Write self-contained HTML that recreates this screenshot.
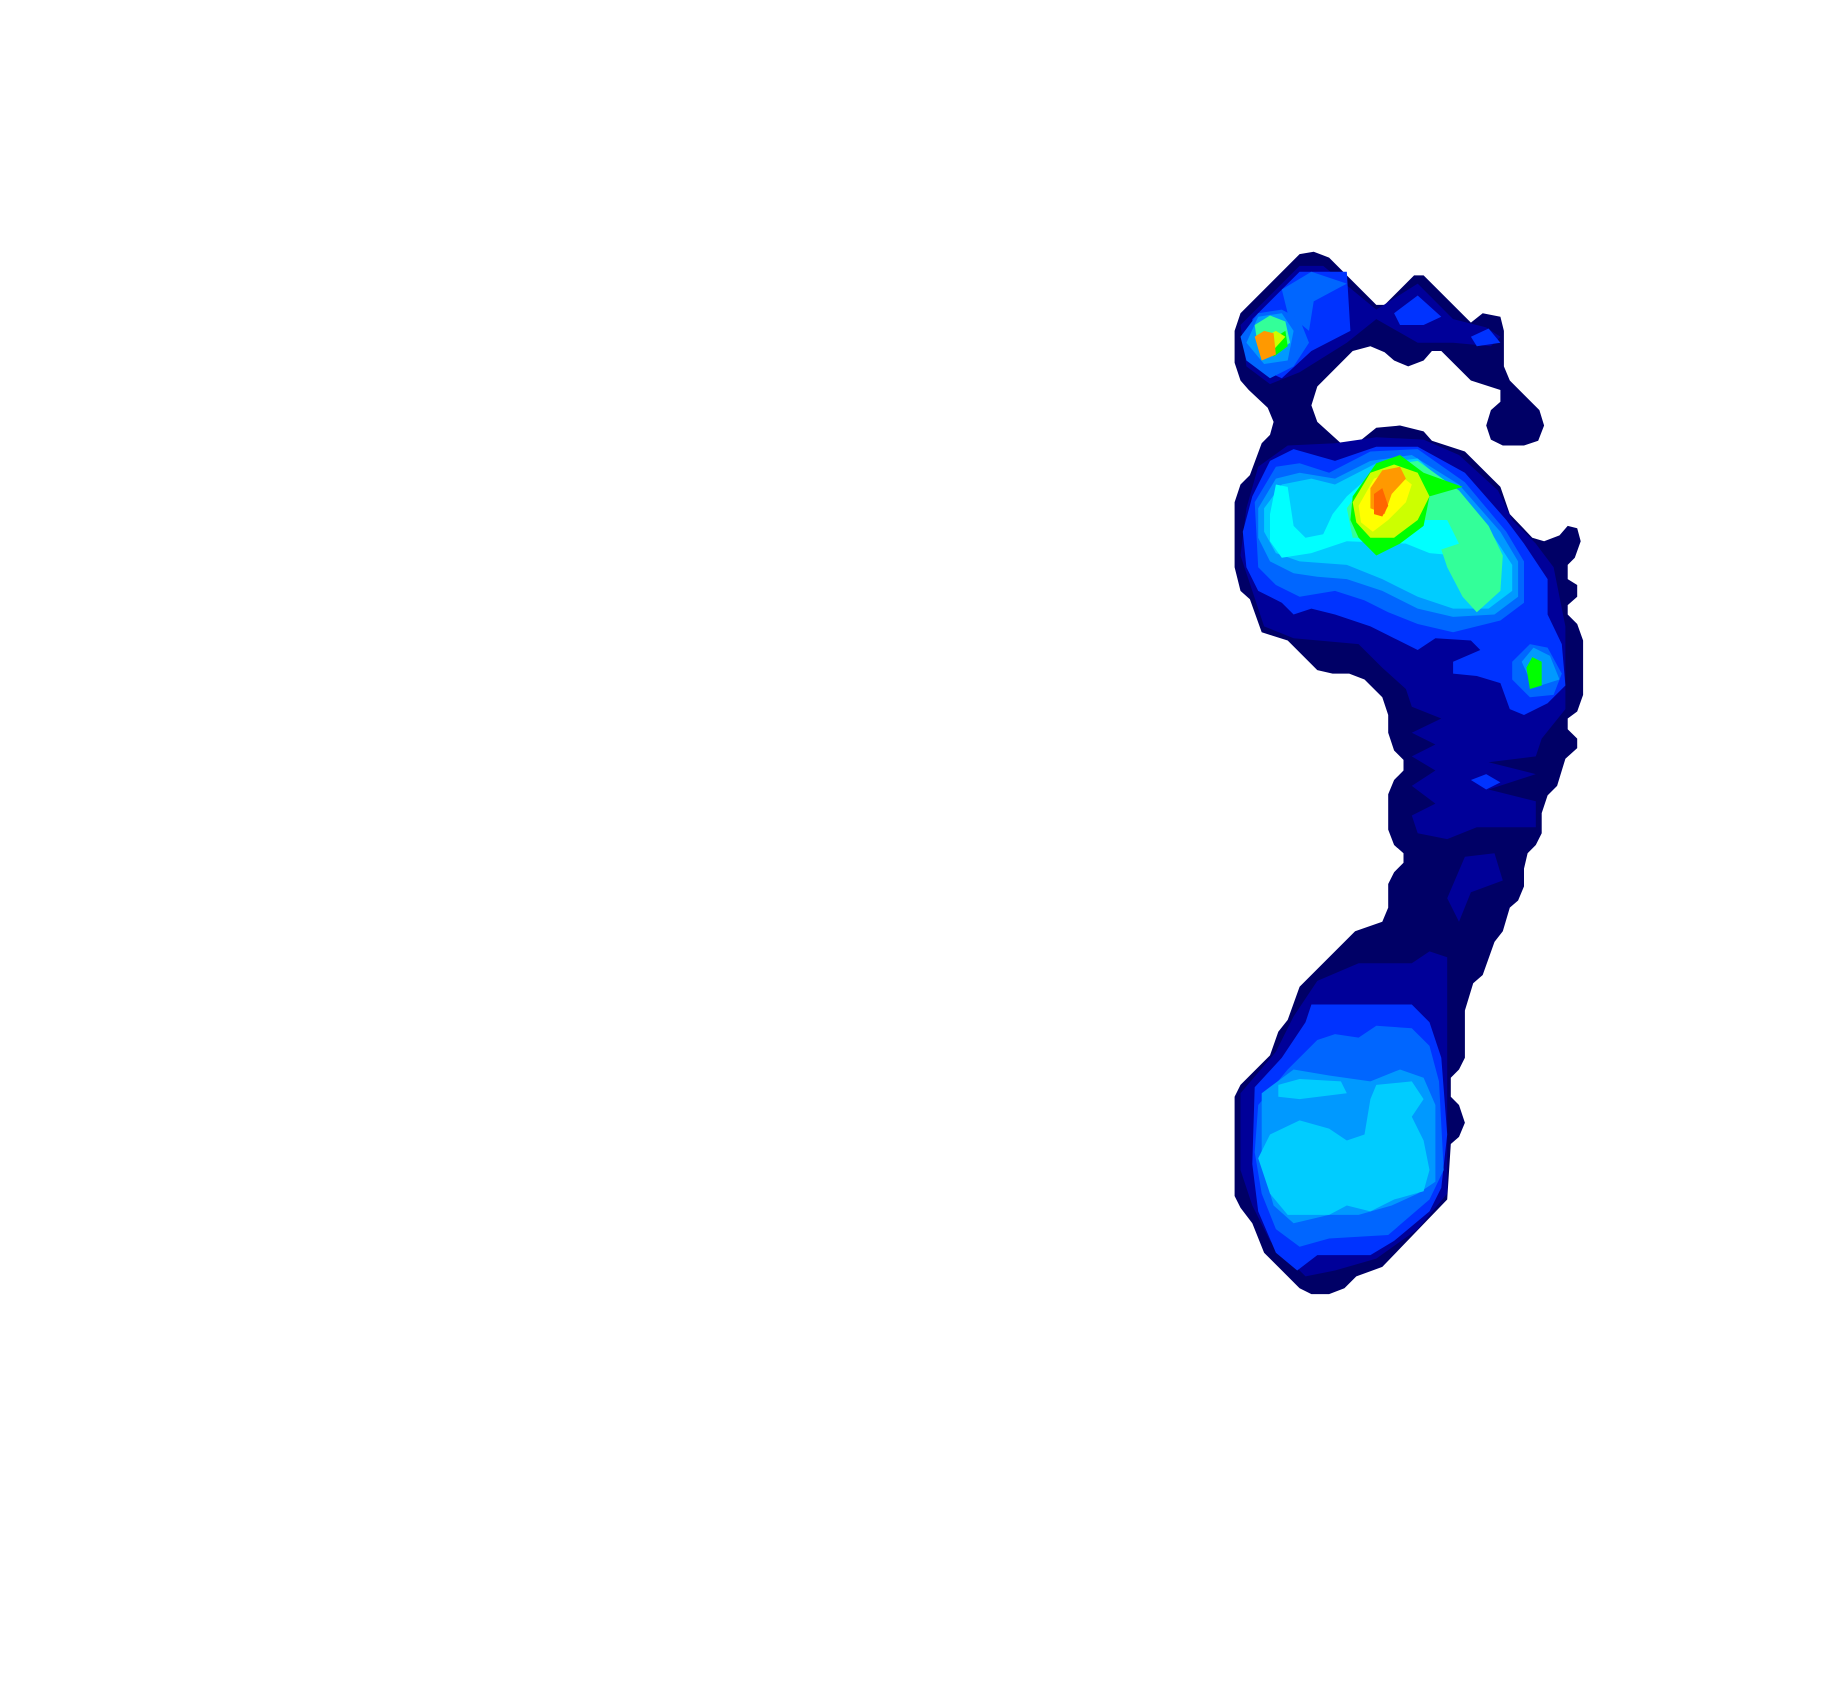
<!DOCTYPE html>
<html><head><meta charset="utf-8"><title>Foot pressure contour</title>
<style>html,body{margin:0;padding:0;background:#fff;}svg{display:block;}</style></head>
<body>
<svg id="chart" width="1843" height="1690" viewBox="0 0 1843 1690" xmlns="http://www.w3.org/2000/svg">
<rect width="1843" height="1690" fill="#fff"/>
<g id="plot"></g>
</svg>
<script>
// Pressure levels (low -> high) and their fill colours
const levels = [1,2,3,4,5,6,7,8,9,10,11,12,13];
const levelColors = ["#000066","#000099","#0033ff","#0066ff","#0099ff","#00ccff","#00ffff","#33ff99","#00ff00","#ccff00","#ffff00","#ff9900","#ff6600"];
// Contour regions: [level, flat list of x,y in data units]
const regions = [
[1,[1045,280,1050,265,1100,215,1112,213,1125,218,1165,258,1172,258,1197,233,1205,233,1245,273,1255,265,1270,268,1273,280,1273,310,1278,322,1303,347,1307,360,1302,373,1290,377,1272,377,1262,372,1258,360,1262,347,1270,340,1270,330,1245,322,1220,297,1212,297,1205,305,1192,310,1180,305,1172,298,1160,293,1145,297,1115,327,1110,343,1115,357,1135,375,1145,378,1165,362,1185,360,1205,365,1212,373,1240,382,1270,412,1278,435,1297,455,1307,458,1320,453,1327,445,1335,447,1338,458,1333,472,1327,478,1327,490,1335,495,1335,505,1327,512,1327,520,1335,528,1340,542,1340,588,1335,602,1327,608,1327,617,1335,625,1335,633,1325,642,1318,665,1310,673,1305,688,1305,705,1300,715,1293,722,1290,735,1290,750,1285,762,1278,768,1272,788,1265,797,1255,825,1247,832,1240,855,1240,895,1235,905,1228,912,1228,928,1235,935,1240,950,1235,962,1228,968,1225,1015,1170,1072,1148,1080,1138,1090,1125,1095,1110,1095,1100,1090,1070,1060,1060,1035,1050,1022,1045,1012,1045,928,1050,918,1075,893,1082,873,1090,863,1100,835,1147,788,1170,780,1175,768,1175,748,1180,738,1188,730,1188,722,1180,715,1175,702,1175,672,1180,660,1188,652,1188,643,1180,635,1175,620,1175,605,1170,590,1155,575,1142,570,1128,570,1115,567,1090,542,1068,535,1058,507,1050,500,1045,480,1045,425,1050,410,1058,402,1068,375,1075,368,1078,357,1073,345,1057,330,1050,322,1045,307]],
[2,[1055,430,1065,395,1090,377,1130,375,1165,370,1205,372,1235,385,1268,415,1280,440,1300,460,1315,480,1325,530,1325,600,1305,625,1300,640,1260,645,1300,655,1260,668,1300,678,1300,700,1250,700,1225,710,1200,705,1195,690,1215,680,1195,665,1215,652,1195,640,1215,630,1195,620,1220,608,1195,598,1190,583,1170,565,1150,545,1095,540,1070,530,1060,500,1050,470]],
[2,[1050,275,1100,225,1120,225,1165,262,1200,240,1230,270,1258,277,1270,285,1262,293,1230,290,1200,290,1165,270,1140,290,1100,315,1075,325,1055,310]],
[2,[1050,925,1080,890,1095,860,1115,830,1150,815,1195,815,1210,805,1225,810,1225,900,1225,1010,1200,1040,1165,1065,1130,1075,1105,1080,1075,1050,1060,1020,1050,990]],
[2,[1225,760,1240,725,1265,722,1272,745,1245,755,1235,780]],
[3,[1060,270,1100,230,1140,230,1143,280,1110,297,1085,320,1062,310]],
[3,[1180,265,1200,250,1220,268,1205,275,1185,275]],
[3,[1245,285,1260,278,1270,290,1250,293]],
[3,[1060,420,1075,390,1095,380,1130,390,1165,378,1200,378,1240,400,1275,440,1290,460,1310,490,1310,520,1322,545,1325,580,1310,595,1290,605,1278,600,1270,578,1250,572,1230,570,1230,560,1253,550,1245,542,1215,540,1200,550,1180,540,1160,530,1130,520,1110,515,1095,520,1085,510,1065,500,1055,480,1052,450]],
[3,[1062,920,1085,895,1105,865,1110,850,1195,850,1210,865,1220,895,1225,960,1220,1005,1210,1025,1180,1050,1160,1062,1115,1062,1098,1075,1080,1060,1065,1025,1060,985]],
[3,[1245,660,1258,655,1270,662,1258,668]],
[4,[1085,245,1110,230,1140,240,1112,255,1108,280,1090,265]],
[4,[1050,285,1065,265,1085,262,1100,270,1108,290,1095,310,1075,320,1055,305]],
[4,[1062,425,1080,395,1100,392,1125,400,1160,382,1200,380,1240,408,1275,450,1290,475,1290,510,1270,525,1230,535,1200,528,1175,518,1155,508,1130,500,1100,505,1080,495,1065,480]],
[4,[1280,560,1295,545,1310,548,1322,570,1315,588,1295,590,1280,575]],
[4,[1065,935,1090,905,1115,880,1130,875,1150,878,1165,868,1195,870,1210,885,1218,915,1222,990,1210,1015,1175,1045,1125,1048,1100,1055,1080,1040,1068,1010,1062,975]],
[5,[1055,290,1065,268,1085,265,1095,280,1090,305,1070,308]],
[5,[1065,430,1080,405,1100,400,1130,405,1160,390,1195,385,1235,410,1270,450,1285,475,1285,505,1265,520,1230,522,1200,515,1170,500,1140,490,1115,488,1095,485,1075,475,1065,455]],
[5,[1288,560,1298,548,1312,555,1320,575,1298,582]],
[5,[1068,925,1095,905,1125,910,1160,915,1185,905,1205,912,1215,935,1215,1000,1200,1010,1178,1020,1150,1028,1125,1028,1095,1035,1078,1020,1068,985]],
[6,[1070,430,1085,410,1110,405,1130,410,1165,392,1200,388,1240,425,1265,455,1280,478,1280,500,1260,515,1230,515,1200,505,1170,490,1140,478,1100,475,1080,468,1070,450]],
[6,[1065,980,1075,960,1100,948,1125,955,1140,965,1155,960,1160,930,1165,918,1195,915,1205,930,1195,945,1205,965,1210,990,1205,1008,1180,1015,1160,1025,1140,1020,1125,1028,1090,1028,1075,1010]],
[6,[1082,918,1100,913,1135,915,1140,925,1100,930,1082,928]],
[5,[1145,995,1152,985,1158,998,1152,1008]],
[5,[1180,975,1185,968,1192,978,1185,990]],
[7,[1075,435,1080,410,1090,412,1095,445,1105,455,1120,452,1128,435,1140,420,1165,398,1200,398,1230,430,1240,460,1232,470,1210,468,1190,460,1140,458,1110,468,1085,472,1075,458]],
[8,[1140,430,1165,395,1200,390,1235,415,1260,445,1272,470,1270,500,1250,518,1238,505,1225,480,1220,465,1235,460,1225,440,1200,440,1165,455,1145,455]],
[8,[1062,275,1075,267,1088,272,1092,290,1078,300,1065,295]],
[9,[1145,420,1165,392,1185,385,1205,400,1238,412,1210,420,1205,445,1185,460,1165,470,1150,455,1143,440]],
[9,[1075,288,1088,280,1090,293,1078,302]],
[9,[1292,565,1297,556,1305,560,1305,580,1295,583]],
[10,[1145,425,1160,400,1180,393,1200,400,1210,420,1200,440,1180,455,1160,455,1148,442]],
[10,[1070,285,1080,280,1088,285,1078,296]],
[11,[1150,428,1163,405,1180,398,1195,410,1190,425,1175,440,1162,450,1152,442]],
[12,[1160,413,1170,398,1185,395,1190,405,1178,418,1172,435,1160,430]],
[12,[1062,285,1070,280,1078,282,1080,300,1068,305]],
[13,[1163,418,1170,413,1175,428,1170,437,1163,435]]
];
const W = 1843, H = 1690;
function sx(v){ return v * W / 1560; }
function sy(v){ return v * H / 1430; }
function colorFor(l){ return levelColors[levels.indexOf(l)]; }
const g = document.getElementById('plot');
const NS = 'http://www.w3.org/2000/svg';
regions.slice().sort((a,b)=>a[0]-b[0]).forEach(function(r){
  const pts = [];
  for (let i=0;i<r[1].length;i+=2) pts.push(sx(r[1][i]).toFixed(1)+','+sy(r[1][i+1]).toFixed(1));
  const p = document.createElementNS(NS,'polygon');
  p.setAttribute('points', pts.join(' '));
  p.setAttribute('fill', colorFor(r[0]));
  
  
  g.appendChild(p);
});
</script>
</body></html>
